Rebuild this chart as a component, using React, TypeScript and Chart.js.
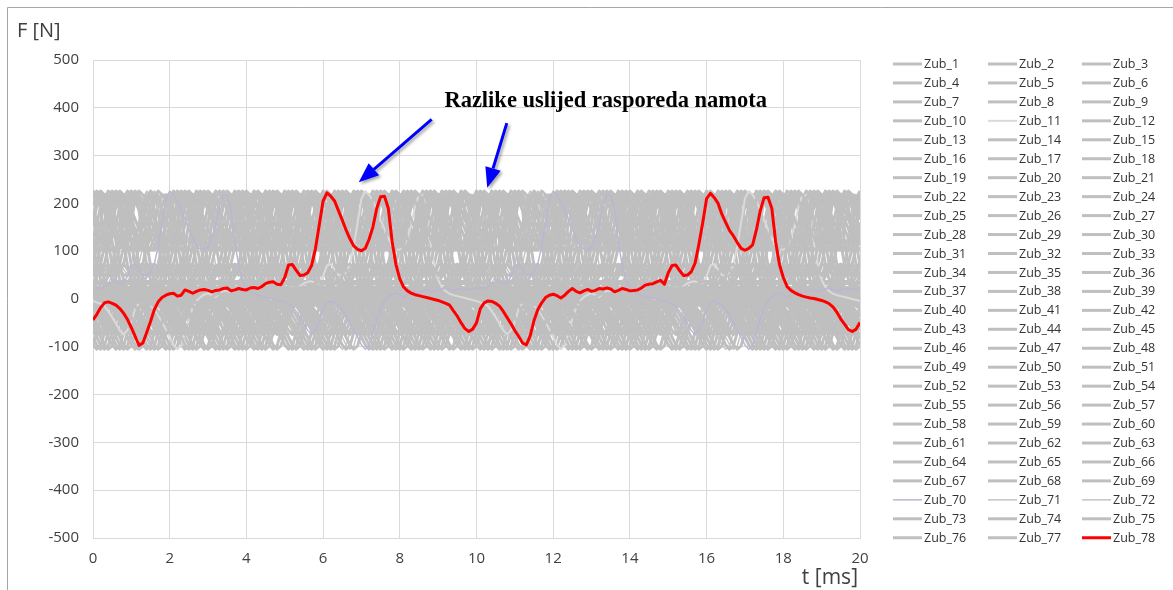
import React, { useEffect, useRef } from 'react';
import { Chart, registerables } from 'chart.js';

Chart.register(...registerables);

// ---------------- data ----------------
const SAMPLE_STEP_MS = 0.1;
const X_MIN = 0;
const X_MAX = 20;
const Y_MIN = -500;
const Y_MAX = 500;
const X_TICK_STEP = 2;
const Y_TICK_STEP = 100;

const xAxisTitle = 't [ms]';
const yAxisTitle = 'F [N]';
const annotationText = 'Razlike uslijed rasporeda namota';

// Zub_78 (red), force every 0.1 ms from 0 to 20 ms
const zub78Force = [
  -44, -32, -18, -8, -6, -9, -13, -20, -30, -43,
  -60, -78, -97, -92, -70, -47, -22, -6, 3, 8,
  11, 12, 6, 8, 19, 16, 12, 16, 19, 20,
  18, 15, 18, 19, 22, 23, 17, 19, 22, 20,
  19, 23, 24, 22, 26, 32, 35, 36, 31, 30,
  45, 71, 72, 60, 49, 50, 55, 70, 105, 155,
  205, 222, 215, 205, 185, 165, 144, 126, 111, 104,
  101, 106, 125, 151, 190, 214, 215, 190, 120, 72,
  42, 25, 17, 12, 9, 7, 5, 3, 1, -1,
  -3, -6, -9, -13, -25, -36, -50, -62, -68, -63,
  -50, -20, -8, -4, -5, -9, -15, -26, -39, -52,
  -66, -78, -92, -96, -77, -45, -22, -8, 3, 8,
  10, 7, 2, 8, 16, 22, 16, 13, 17, 20,
  16, 18, 22, 21, 23, 21, 15, 18, 22, 20,
  17, 18, 19, 23, 29, 31, 32, 36, 39, 31,
  55, 70, 71, 59, 49, 50, 57, 75, 115, 160,
  210, 221, 212, 200, 177, 160, 143, 132, 118, 106,
  102, 106, 113, 145, 185, 212, 213, 190, 120, 72,
  45, 26, 18, 13, 9, 6, 4, 2, 1, -1,
  -3, -6, -10, -17, -28, -42, -53, -64, -68, -63,
  -49,
];

// One 10 ms period of a regular tooth force (as read from Zub_70), every 0.1 ms
const toothForcePeriod = [
  23, 24, 22, 27, 33, 36, 37, 32, 33, 48,
  70, 73, 62, 50, 49, 56, 74, 110, 160, 210,
  226, 218, 205, 186, 166, 146, 127, 112, 104, 103,
  108, 128, 155, 195, 218, 216, 188, 118, 70, 40,
  24, 16, 11, 8, 6, 4, 2, 0, -2, -4,
  -7, -10, -15, -26, -38, -52, -66, -74, -65, -48,
  -20, -8, -5, -8, -14, -22, -34, -48, -64, -80,
  -96, -105, -98, -70, -42, -18, -4, 4, 9, 12,
  8, 4, 10, 18, 15, 12, 17, 20, 17, 15,
  19, 21, 23, 20, 17, 20, 22, 19, 20, 22,
];

// Phase offset (in samples of 0.1 ms) of teeth Zub_1 ... Zub_77
const toothPhase = [
  23, 26, 28, 31, 33, 36, 38, 41, 44, 46,
  49, 51, 54, 56, 59, 62, 64, 67, 69, 72,
  74, 77, 80, 82, 85, 87, 90, 92, 95, 97,
  99, 3, 5, 8, 10, 13, 15, 18, 20, 24,
  27, 29, 32, 34, 37, 39, 42, 45, 47, 50,
  52, 55, 57, 60, 63, 65, 68, 70, 73, 75,
  78, 81, 83, 86, 88, 91, 93, 96, 98, 0,
  4, 6, 9, 11, 14, 16, 19,
];

const seriesNames = Array.from({ length: 78 }, (_, i) => `Zub_${i + 1}`);

// ---------------- styles ----------------
const GRAY = '#bfbfbf';
function styleFor(idx: number) {
  const name = seriesNames[idx];
  if (name === 'Zub_78') return { color: '#ff0000', width: 3, order: -1 };
  if (name === 'Zub_70') return { color: '#bdb5d3', width: 1.5, order: 0 };
  if (name === 'Zub_11') return { color: '#dadada', width: 2, order: 1 };
  if (name === 'Zub_71' || name === 'Zub_72') return { color: '#c4c4c4', width: 1.5, order: 1 };
  return { color: GRAY, width: 3, order: 1 };
}

const TEXT_COLOR = '#404040';
const FONT = '"Open Sans", "Noto Sans", sans-serif';

function buildDatasets() {
  const n = zub78Force.length;
  const times = zub78Force.map((_, i) => +(i * SAMPLE_STEP_MS).toFixed(2));
  const ds: any[] = [];
  for (let k = 0; k < 77; k++) {
    const ph = toothPhase[k];
    const data = [];
    for (let i = 0; i < n; i++) {
      data.push({ x: times[i], y: toothForcePeriod[(i + ph) % toothForcePeriod.length] });
    }
    const st = styleFor(k);
    ds.push({
      label: seriesNames[k], data, borderColor: st.color, borderWidth: st.width,
      order: st.order, pointRadius: 0, fill: false, tension: 0, borderJoinStyle: 'round',
    });
  }
  const st = styleFor(77);
  ds.push({
    label: seriesNames[77],
    data: zub78Force.map((v, i) => ({ x: times[i], y: v })),
    borderColor: st.color, borderWidth: st.width, order: st.order,
    pointRadius: 0, fill: false, tension: 0, borderJoinStyle: 'round',
  });
  return ds;
}

function drawArrow(ctx: CanvasRenderingContext2D, x1: number, y1: number, x2: number, y2: number) {
  const ang = Math.atan2(y2 - y1, x2 - x1);
  const headLen = 20;
  const headW = 8;
  const bx = x2 - headLen * Math.cos(ang);
  const by = y2 - headLen * Math.sin(ang);
  ctx.save();
  ctx.shadowColor = 'rgba(0,0,0,0.35)';
  ctx.shadowBlur = 3;
  ctx.shadowOffsetX = 2;
  ctx.shadowOffsetY = 2;
  ctx.strokeStyle = '#0000ff';
  ctx.fillStyle = '#0000ff';
  ctx.lineWidth = 3;
  ctx.beginPath();
  ctx.moveTo(x1, y1);
  ctx.lineTo(bx, by);
  ctx.stroke();
  ctx.beginPath();
  ctx.moveTo(x2, y2);
  ctx.lineTo(bx + headW * Math.sin(ang), by - headW * Math.cos(ang));
  ctx.lineTo(bx - headW * Math.sin(ang), by + headW * Math.cos(ang));
  ctx.closePath();
  ctx.fill();
  ctx.restore();
}

const decorPlugin = {
  id: 'decor',
  beforeDraw(chart: any) {
    const ctx = chart.ctx as CanvasRenderingContext2D;
    ctx.save();
    ctx.strokeStyle = '#a6a6a6';
    ctx.lineWidth = 1;
    ctx.beginPath();
    ctx.moveTo(7.5, chart.height);
    ctx.lineTo(7.5, 7.5);
    ctx.lineTo(chart.width, 7.5);
    ctx.stroke();
    ctx.restore();
  },
  afterDraw(chart: any) {
    const ctx = chart.ctx as CanvasRenderingContext2D;
    const xs = chart.scales.x;
    const ys = chart.scales.y;
    ctx.save();
    // axis titles
    ctx.fillStyle = TEXT_COLOR;
    ctx.font = `20px ${FONT}`;
    ctx.textBaseline = 'middle';
    ctx.textAlign = 'left';
    ctx.fillText(yAxisTitle, 17, 31);
    ctx.font = `21px ${FONT}`;
    ctx.textAlign = 'right';
    ctx.fillText(xAxisTitle, xs.right - 2, 578);

    // annotation
    ctx.fillStyle = '#000000';
    ctx.font = 'bold 22.5px "Liberation Serif", "Times New Roman", serif';
    ctx.textAlign = 'center';
    ctx.fillText(annotationText, xs.getPixelForValue(13.37), ys.getPixelForValue(414));
    drawArrow(ctx, xs.getPixelForValue(8.83), ys.getPixelForValue(376), xs.getPixelForValue(6.93), ys.getPixelForValue(244));
    drawArrow(ctx, xs.getPixelForValue(10.79), ys.getPixelForValue(368), xs.getPixelForValue(10.28), ys.getPixelForValue(233));

    // legend
    const colLine = [893, 988, 1082];
    const rowTop = 64;
    const rowH = 18.95;
    ctx.font = `12.5px ${FONT}`;
    ctx.textAlign = 'left';
    chart.data.datasets.forEach((d: any, i: number) => {
      const r = Math.floor(i / 3);
      const c = i % 3;
      const y = rowTop + r * rowH;
      const x = colLine[c];
      ctx.strokeStyle = d.borderColor;
      ctx.lineWidth = Math.min(d.borderWidth, 3);
      ctx.beginPath();
      ctx.moveTo(x, y);
      ctx.lineTo(x + 29, y);
      ctx.stroke();
      ctx.fillStyle = '#333333';
      ctx.fillText(d.label, x + 31, y + 0.5);
    });
    ctx.restore();
  },
};

export default function App() {
  const ref = useRef<HTMLCanvasElement | null>(null);
  useEffect(() => {
    if (!ref.current) return;
    const chart = new Chart(ref.current, {
      type: 'line',
      data: { datasets: buildDatasets() },
      options: {
        animation: false,
        responsive: false,
        events: [],
        layout: { padding: { left: 0, right: 313, top: 60, bottom: 0 } },
        plugins: { legend: { display: false }, tooltip: { enabled: false }, title: { display: false } },
        scales: {
          x: {
            type: 'linear', min: X_MIN, max: X_MAX,
            ticks: { stepSize: X_TICK_STEP, color: TEXT_COLOR, font: { family: FONT, size: 15 }, padding: 12, maxRotation: 0 },
            grid: { color: '#d9d9d9', drawTicks: false },
            border: { color: '#d9d9d9' },
            afterFit: (s: any) => { s.height = 52; },
          },
          y: {
            type: 'linear', min: Y_MIN, max: Y_MAX,
            ticks: { stepSize: Y_TICK_STEP, color: TEXT_COLOR, font: { family: FONT, size: 15 }, padding: 14 },
            grid: { color: '#d9d9d9', drawTicks: false },
            border: { color: '#d9d9d9' },
            afterFit: (s: any) => { s.width = 93; },
          },
        },
      } as any,
      plugins: [decorPlugin],
    });
    return () => chart.destroy();
  }, []);
  return (
    <div style={{ position: 'fixed', left: 0, top: 0, width: 1173, height: 590, background: '#fff' }}>
      <canvas ref={ref} width={1173} height={590} style={{ display: 'block' }} />
    </div>
  );
}
